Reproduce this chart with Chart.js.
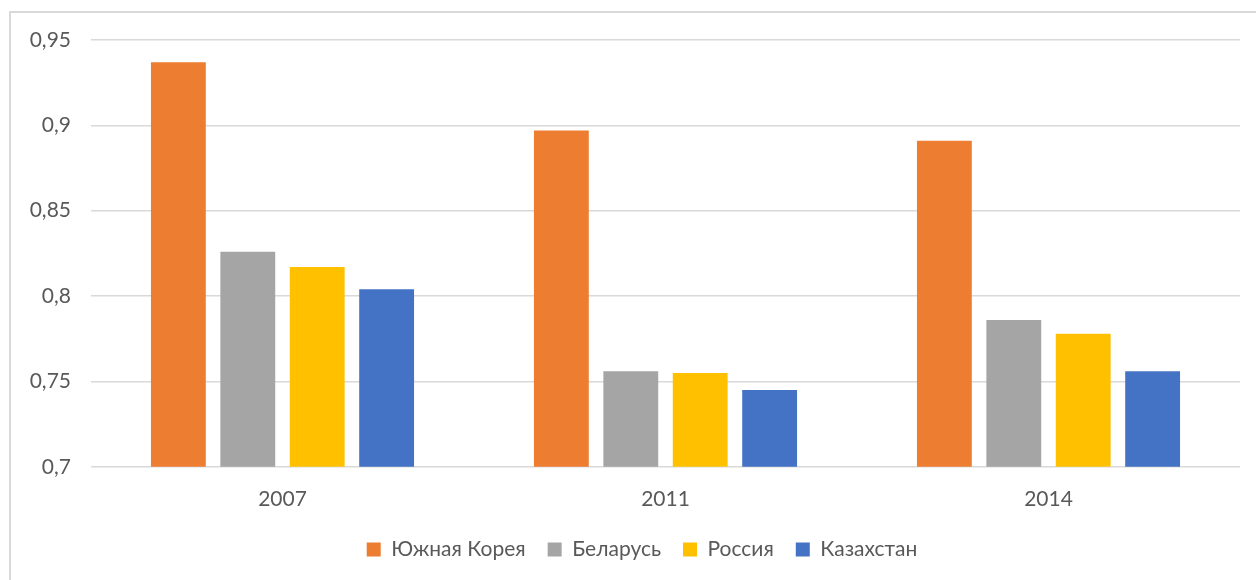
<!DOCTYPE html>
<html>
<head>
<meta charset="utf-8">
<script src="https://cdn.jsdelivr.net/npm/chart.js@4/dist/chart.umd.min.js"></script>
<style>
    body { margin: 0; background: #fff; }
    #frame { position: absolute; left: 9px; top: 11px; width: 1260px; height: 580px; border-left: 2px solid #d9d9d9; border-top: 2px solid #d9d9d9; }
    #wrap { position: absolute; left: 0; top: 0; width: 1256px; height: 580px; }
</style>
</head>
<body>
<div id="frame"></div>
<div id="wrap"><canvas id="myChart"></canvas></div>
<script>
// Dane
const lata = ['2007', '2011', '2014'];
const kraje = ['Южная Корея', 'Беларусь', 'Россия', 'Казахстан'];
const kolory = ['#ED7D31', '#A5A5A5', '#FFC000', '#4472C4'];
const korea = [0.937, 0.897, 0.891];
const bialorus = [0.826, 0.756, 0.786];
const rosja = [0.817, 0.755, 0.778];
const kazachstan = [0.804, 0.745, 0.756];
const yTicks = [0.7, 0.75, 0.8, 0.85, 0.9, 0.95];

const serie = [korea, bialorus, rosja, kazachstan];

// Przesunięcie legendy w prawo (środek legendy jak w oryginale)
const przesunLegende = {
    id: 'przesunLegende',
    afterLayout(chart) {
        chart.legend.left += 22;
        chart.legend.right += 22;
    }
};

document.addEventListener('DOMContentLoaded', function() {
    const ctx = document.getElementById('myChart').getContext('2d');
    Chart.defaults.font.family = 'Lato, "Liberation Sans", sans-serif';
    Chart.defaults.color = '#595959';

    const data = {
        labels: lata,
        datasets: kraje.map((kraj, i) => ({
            label: kraj,
            data: serie[i],
            backgroundColor: kolory[i],
            borderWidth: 0,
            barPercentage: 0.79,
            categoryPercentage: 0.725
        }))
    };

    const options = {
        responsive: true,
        maintainAspectRatio: false,
        animation: false,
        layout: { padding: { top: 40, right: 16, bottom: 10, left: 0 } },
        plugins: {
            legend: {
                position: 'bottom',
                labels: {
                    boxWidth: 14,
                    boxHeight: 14,
                    padding: 22,
                    font: { size: 21 }
                }
            },
            tooltip: { enabled: false }
        },
        scales: {
            x: {
                grid: { display: false },
                border: { display: false },
                ticks: { font: { size: 21 }, padding: 12 },
                // zmniejsz wysokość osi, żeby obszar wykresu sięgał niżej
                afterFit: function(axis) { axis.height = axis.height - 7; }
            },
            y: {
                min: 0.7,
                max: 0.95,
                afterBuildTicks: function(axis) {
                    axis.ticks = yTicks.map(v => ({ value: v }));
                },
                afterFit: function(axis) { axis.width = 91; },
                grid: { color: '#d9d9d9', lineWidth: 1.5, drawTicks: false },
                border: { display: false },
                ticks: {
                    font: { size: 21 },
                    padding: 20,
                    callback: v => String(Number(v.toFixed(2))).replace('.', ',')
                }
            }
        }
    };

    new Chart(ctx, { type: 'bar', data: data, options: options, plugins: [przesunLegende] });
});
</script>
</body>
</html>
